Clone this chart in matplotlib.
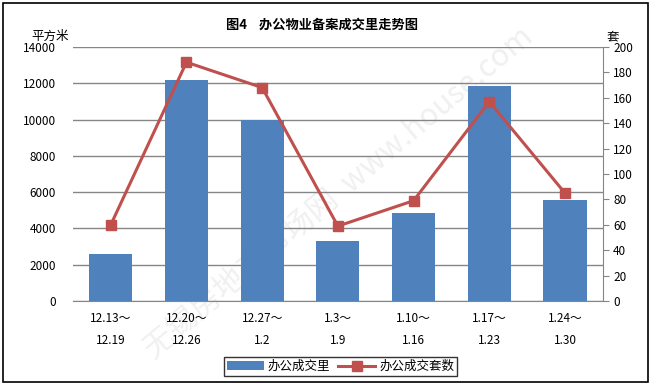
import matplotlib
matplotlib.use('Agg')
import matplotlib.pyplot as plt
import numpy as np
from matplotlib.patches import Rectangle

plt.rcParams['font.family'] = ['Noto Sans CJK SC', 'DejaVu Sans']

# data
weeks = ['12.13～\n12.19', '12.20～\n12.26', '12.27～\n1.2', '1.3～\n1.9',
         '1.10～\n1.16', '1.17～\n1.23', '1.24～\n1.30']
area = [2600, 12200, 10000, 3300, 4850, 11850, 5570]
units = [60, 188, 168, 59, 79, 157, 85]

blue = '#4f81bd'
red = '#c0504d'
grey = '#868686'

fig = plt.figure(figsize=(6.51, 3.85), dpi=100)
fig.patches.append(Rectangle((0.005, 0.008), 0.99, 0.985, transform=fig.transFigure,
                             fill=False, edgecolor='black', linewidth=1.2))

ax = fig.add_axes([0.112, 0.218, 0.814, 0.66])
ax.patch.set_alpha(0)
x = np.arange(len(weeks))
bars = ax.bar(x, area, width=0.57, color=blue, zorder=3, label='办公成交里')
ax.set_ylim(0, 14000)
ax.set_yticks(range(0, 14001, 2000))
ax.set_xlim(-0.5, len(weeks) - 0.5)
ax.set_xticks(x)
ax.set_xticklabels(weeks, fontsize=8.5, linespacing=1.9)
ax.tick_params(axis='x', length=0, pad=8)
ax.tick_params(axis='y', length=0, labelsize=8.5, pad=12)
ax.grid(axis='y', color=grey, linewidth=1, zorder=0)
for s in ['top', 'left', 'right']:
    ax.spines[s].set_visible(False)
ax.spines['bottom'].set_color(grey)

ax2 = ax.twinx()
line, = ax2.plot(x, units, color=red, linewidth=2.2, marker='s', markersize=7,
                 zorder=4, label='办公成交套数')
ax2.set_ylim(0, 200)
ax2.set_yticks(range(0, 201, 20))
ax2.tick_params(axis='y', labelsize=8.5, color=grey, length=4, direction='out')
for s in ['top', 'left', 'bottom']:
    ax2.spines[s].set_visible(False)
ax2.spines['right'].set_color(grey)

fig.text(0.495, 0.935, '图4    办公物业备案成交里走势图', ha='center', va='center',
         fontsize=9.5, fontweight='bold')
fig.text(0.048, 0.905, '平方米', ha='left', va='center', fontsize=9)
fig.text(0.932, 0.905, '套', ha='left', va='center', fontsize=9)

# faint watermark, behind the plot
fig.text(0.52, 0.5, '无锡房地产市场网  www.house.com', ha='center', va='center',
         rotation=40, fontsize=22, color='#f0f0f0', zorder=-1)

fig.legend(handles=[bars, line], loc='center', bbox_to_anchor=(0.523, 0.048),
           ncol=2, fontsize=9, frameon=True, fancybox=False, edgecolor='black',
           handlelength=3, columnspacing=0.6, handletextpad=0.3, borderpad=0.25)

fig.savefig('out.png', dpi=100)
